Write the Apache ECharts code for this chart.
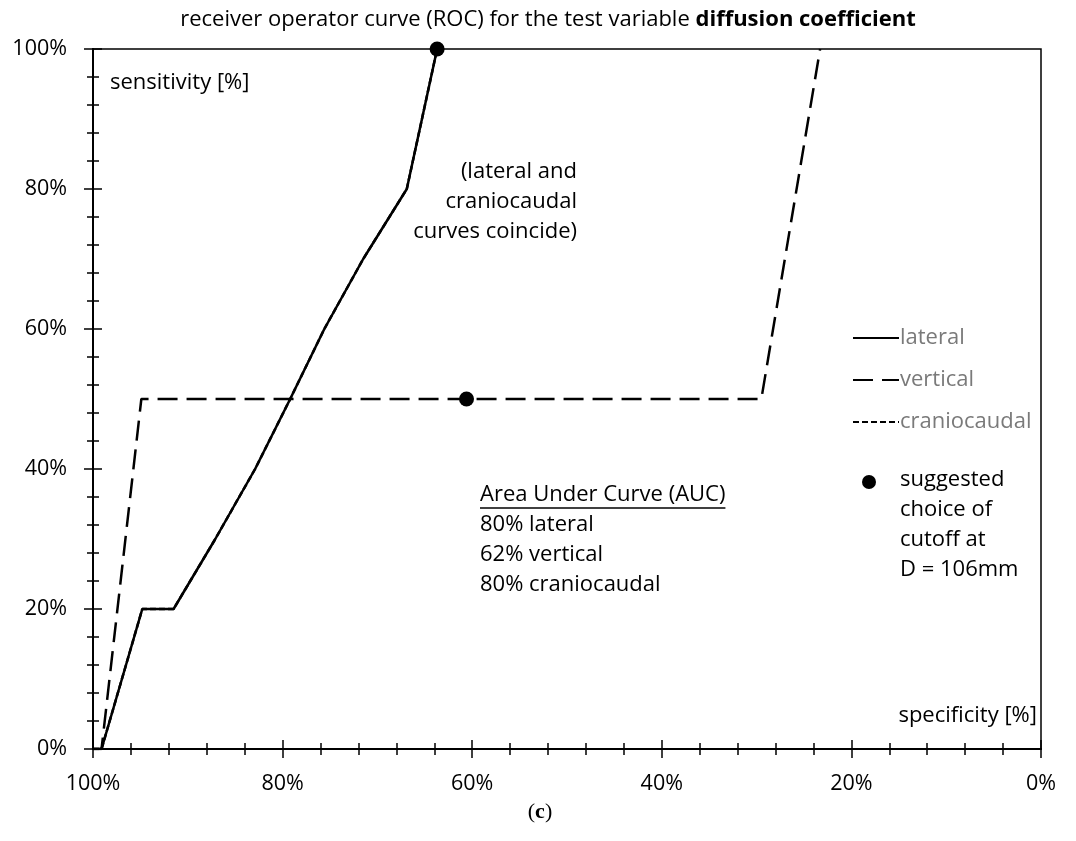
<!DOCTYPE html>
<html>
<head>
<meta charset="utf-8">
<script src="https://cdn.jsdelivr.net/npm/echarts@6/dist/echarts.min.js"></script>
<style>
  html, body { margin: 0; padding: 0; background: #fff; }
  #chart { width: 1076px; height: 841px; }
</style>
</head>
<body>
<div id="chart"></div>
<script>
// ROC curves: [specificity %, sensitivity %]
const lateral = [[100, 0], [99.1, 0], [94.8, 20], [91.5, 20], [87.1, 30], [82.9, 40], [79.2, 50], [75.6, 60], [71.5, 70], [66.9, 80], [63.7, 100]];
const vertical = [[100, 0], [99.1, 0], [94.9, 50], [29.5, 50], [23.3, 100]];
const craniocaudal = [[100, 0], [99.1, 0], [94.8, 20], [91.5, 20], [87.1, 30], [82.9, 40], [79.2, 50], [75.6, 60], [71.5, 70], [66.9, 80], [63.7, 100]];
// suggested cutoff points (D = 106mm)
const cutoffPoints = [[63.7, 100], [60.6, 50]];
const axisTickValues = [0, 20, 40, 60, 80, 100];
const aucTitle = 'Area Under Curve (AUC)';
const aucLines = ['80% lateral', '62% vertical', '80% craniocaudal'];

const FONT = '"Open Sans"';
const FS = 22;
const chart = echarts.init(document.getElementById('chart'), null, { renderer: 'canvas' });

// width of the AUC heading, for its underline
const measureCtx = document.createElement('canvas').getContext('2d');
measureCtx.font = FS + 'px "Open Sans"';
const aucTitleWidth = measureCtx.measureText(aucTitle).width;

const pct = v => v + '%';
const grid = { left: 93, right: 35, top: 49, bottom: 92 };

function valueAxis(extra) {
  return Object.assign({
    type: 'value', min: 0, max: 100, interval: 20,
    axisLine: { show: true, onZero: false, lineStyle: { color: '#000', width: 2 } },
    splitLine: { show: false },
    axisTick: { show: true, length: 9, lineStyle: { color: '#000', width: 1.5 } },
    minorTick: { show: true, splitNumber: 5, length: 6, lineStyle: { color: '#000', width: 1.5 } },
    axisLabel: { show: true, formatter: v => axisTickValues.includes(v) ? pct(v) : '', color: '#000', fontFamily: FONT, fontSize: 21.5 }
  }, extra);
}

const option = {
  backgroundColor: '#fff',
  animation: false,
  grid: Object.assign({ show: true, borderColor: '#000', borderWidth: 1.5, backgroundColor: '#fff' }, grid),
  xAxis: [
    valueAxis({ inverse: true, position: 'bottom', axisLabel: { formatter: pct, color: '#000', fontFamily: FONT, fontSize: 21.5, margin: 24 } }),
    valueAxis({ inverse: true, position: 'bottom', axisTick: { show: true, inside: true, length: 9, lineStyle: { color: '#000', width: 1.5 } }, axisLabel: { show: false } })
  ],
  yAxis: [
    valueAxis({ position: 'left', axisLabel: { formatter: pct, color: '#000', fontFamily: FONT, fontSize: 21.5, margin: 26 } }),
    valueAxis({ position: 'left', axisTick: { show: true, inside: true, length: 9, lineStyle: { color: '#000', width: 1.5 } }, axisLabel: { show: false } })
  ],
  legend: {
    data: ['lateral', 'vertical', 'craniocaudal'],
    orient: 'vertical',
    left: 847, top: 322,
    itemWidth: 46, itemHeight: 14, itemGap: 20,
    itemStyle: { opacity: 0 },
    textStyle: { color: '#7a7a7a', fontFamily: FONT, fontSize: FS, padding: [0, 0, 0, -4], lineHeight: 22 },
    selectedMode: false
  },
  series: [
    {
      name: 'craniocaudal', type: 'line', data: craniocaudal, symbol: 'none', z: 1,
      itemStyle: { color: '#000' },
      lineStyle: { color: '#000', width: 2.5, type: [6, 3] }
    },
    {
      name: 'vertical', type: 'line', data: vertical, symbol: 'none', z: 2,
      itemStyle: { color: '#000' },
      lineStyle: { color: '#000', width: 2.5, type: [20, 9] }
    },
    {
      name: 'lateral', type: 'line', data: lateral, symbol: 'none', z: 3,
      itemStyle: { color: '#000' },
      lineStyle: { color: '#000', width: 2.5, type: 'solid' }
    },
    {
      name: 'cutoff', type: 'scatter', data: cutoffPoints, symbol: 'circle', symbolSize: 15, z: 5,
      itemStyle: { color: '#000', opacity: 1 }
    }
  ],
  graphic: [
    {
      type: 'text', x: 548, y: 20,
      style: {
        text: '{n|receiver operator curve (ROC) for the test variable }{b|diffusion coefficient}',
        align: 'center', verticalAlign: 'middle',
        rich: {
          n: { fontFamily: FONT, fontSize: FS, fill: '#000' },
          b: { fontFamily: FONT, fontSize: FS, fontWeight: 'bold', fill: '#000' }
        }
      }
    },
    {
      type: 'text', x: 110, y: 83,
      style: { text: 'sensitivity [%]', fontFamily: FONT, fontSize: FS, fill: '#000', verticalAlign: 'middle' }
    },
    {
      type: 'text', x: 1037, y: 716,
      style: { text: 'specificity [%]', fontFamily: FONT, fontSize: FS, fill: '#000', align: 'right', verticalAlign: 'middle' }
    },
    {
      type: 'text', x: 577, y: 202,
      style: { text: '(lateral and\ncraniocaudal\ncurves coincide)', fontFamily: FONT, fontSize: FS, lineHeight: 30, fill: '#000', align: 'right', verticalAlign: 'middle' }
    },
    {
      type: 'text', x: 480, y: 540,
      style: { text: [aucTitle].concat(aucLines).join('\n'), fontFamily: FONT, fontSize: FS, lineHeight: 30, fill: '#000', verticalAlign: 'middle' }
    },
    {
      type: 'line', shape: { x1: 480, y1: 508, x2: 480 + aucTitleWidth, y2: 508 },
      style: { stroke: '#000', lineWidth: 1.3 }
    },
    {
      type: 'circle', shape: { cx: 869, cy: 482, r: 7 },
      style: { fill: '#000' }
    },
    {
      type: 'text', x: 900, y: 525,
      style: { text: 'suggested\nchoice of\ncutoff at\nD = 106mm', fontFamily: FONT, fontSize: FS, lineHeight: 30, fill: '#000', verticalAlign: 'middle' }
    },
    {
      type: 'text', x: 540, y: 812,
      style: {
        text: '{n|(}{b|c}{n|)}', align: 'center', verticalAlign: 'middle',
        rich: {
          n: { fontFamily: 'Liberation Serif', fontSize: 22, fill: '#000' },
          b: { fontFamily: 'Liberation Serif', fontSize: 22, fontWeight: 'bold', fill: '#000' }
        }
      }
    }
  ]
};

chart.setOption(option);
</script>
</body>
</html>
